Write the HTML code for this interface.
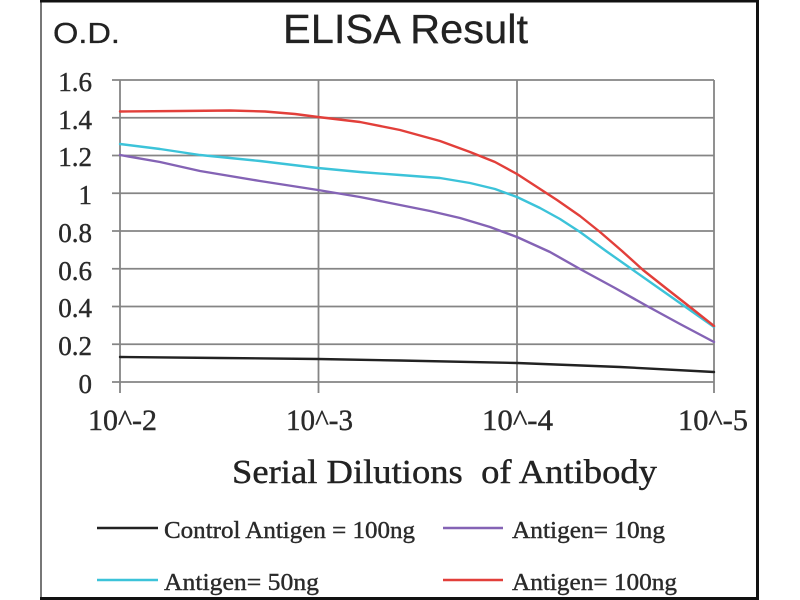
<!DOCTYPE html>
<html>
<head>
<meta charset="utf-8">
<style>
  html, body { margin:0; padding:0; background:#fff; }
  svg { display:block; }
</style>
</head>
<body>
<svg width="800" height="600" viewBox="0 0 800 600" xmlns="http://www.w3.org/2000/svg">
  <rect x="0" y="0" width="800" height="600" fill="#fff"/>
  <!-- frame -->
  <line x1="41" y1="0" x2="41" y2="600" stroke="#777" stroke-width="2"/>
  <line x1="40" y1="1" x2="759" y2="1" stroke="#111" stroke-width="3"/>
  <line x1="757.5" y1="0" x2="757.5" y2="600" stroke="#111" stroke-width="3"/>
  <line x1="40" y1="598.5" x2="759" y2="598.5" stroke="#111" stroke-width="3"/>

  <!-- titles -->
  <text x="53" y="43" font-family="Liberation Sans, sans-serif" font-size="29" fill="#222" stroke="#222" stroke-width="0.3" textLength="67" lengthAdjust="spacingAndGlyphs">O.D.</text>
  <text x="283" y="43" font-family="Liberation Sans, sans-serif" font-size="41" fill="#222" stroke="#222" stroke-width="0.3" textLength="245" lengthAdjust="spacingAndGlyphs">ELISA Result</text>

  <!-- grid -->
  <g stroke="#858585" stroke-width="1.8" fill="none">
    <line x1="112" y1="80" x2="714" y2="80"/>
    <line x1="112" y1="117.75" x2="714" y2="117.75"/>
    <line x1="112" y1="155.5" x2="714" y2="155.5"/>
    <line x1="112" y1="193.25" x2="714" y2="193.25"/>
    <line x1="112" y1="231" x2="714" y2="231"/>
    <line x1="112" y1="268.75" x2="714" y2="268.75"/>
    <line x1="112" y1="306.5" x2="714" y2="306.5"/>
    <line x1="112" y1="344.25" x2="714" y2="344.25"/>
    <line x1="112" y1="382" x2="714" y2="382"/>
    <line x1="120" y1="80" x2="120" y2="393"/>
    <line x1="318.5" y1="80" x2="318.5" y2="393"/>
    <line x1="517" y1="80" x2="517" y2="393"/>
    <line x1="714" y1="80" x2="714" y2="393"/>
  </g>

  <!-- y labels -->
  <g font-family="Liberation Serif, serif" font-size="27" fill="#2a2a2a" stroke="#2a2a2a" stroke-width="0.4" text-anchor="end">
    <text x="92" y="91">1.6</text>
    <text x="92" y="129">1.4</text>
    <text x="92" y="166">1.2</text>
    <text x="92" y="204">1</text>
    <text x="92" y="242">0.8</text>
    <text x="92" y="280">0.6</text>
    <text x="92" y="317">0.4</text>
    <text x="92" y="355">0.2</text>
    <text x="92" y="393">0</text>
  </g>

  <!-- x labels -->
  <g font-family="Liberation Serif, serif" font-size="30" fill="#2a2a2a" stroke="#2a2a2a" stroke-width="0.4">
    <text x="88" y="430" textLength="69" lengthAdjust="spacingAndGlyphs">10^-2</text>
    <text x="286" y="430" textLength="67" lengthAdjust="spacingAndGlyphs">10^-3</text>
    <text x="482" y="430" textLength="71" lengthAdjust="spacingAndGlyphs">10^-4</text>
    <text x="678" y="430" textLength="70" lengthAdjust="spacingAndGlyphs">10^-5</text>
  </g>

  <!-- series -->
  <g fill="none" stroke-width="2.4" stroke-linejoin="round" stroke-linecap="round">
    <polyline stroke="#222" points="120,357 220,358 318,359 400,360.5 517,363 620,367 714,372"/>
    <polyline stroke="#8463b5" points="120,155 160,162 200,171 260,181 318,190 360,197 400,205 430,211 460,218 490,227 517,237 550,252 580,269 615,288 647,306 680,324 714,342"/>
    <polyline stroke="#3cc3d9" points="120,144 160,149 200,155 260,161 318,168 360,172 400,175 440,178 470,183 495,189 517,197 540,208 560,219 580,232 606,251 633,270 660,289 687,308 714,327"/>
    <polyline stroke="#e23f3a" points="120,111.5 180,111 230,110.5 265,111.5 295,114 318,117 360,122 400,130 440,141 470,152 495,162 517,174 537,187 557,200 580,216 600,232 622,251 643,270 667,289 690,307 714,326"/>
  </g>

  <!-- x axis title -->
  <text x="232" y="483" font-family="Liberation Serif, serif" font-size="34" fill="#222" stroke="#222" stroke-width="0.4" textLength="425" lengthAdjust="spacingAndGlyphs">Serial Dilutions&#160; of Antibody</text>

  <!-- legend -->
  <g stroke-width="2.4">
    <line x1="97" y1="528" x2="158" y2="528" stroke="#222"/>
    <line x1="443" y1="528" x2="503" y2="528" stroke="#8463b5"/>
    <line x1="97" y1="580" x2="158" y2="580" stroke="#3cc3d9"/>
    <line x1="443" y1="580" x2="503" y2="580" stroke="#e23f3a"/>
  </g>
  <g font-family="Liberation Serif, serif" font-size="24" fill="#2a2a2a" stroke="#2a2a2a" stroke-width="0.4">
    <text x="164" y="538" textLength="251" lengthAdjust="spacingAndGlyphs">Control Antigen = 100ng</text>
    <text x="512" y="538" textLength="153" lengthAdjust="spacingAndGlyphs">Antigen= 10ng</text>
    <text x="164" y="590" textLength="155" lengthAdjust="spacingAndGlyphs">Antigen= 50ng</text>
    <text x="512" y="590" textLength="165" lengthAdjust="spacingAndGlyphs">Antigen= 100ng</text>
  </g>
</svg>
</body>
</html>
